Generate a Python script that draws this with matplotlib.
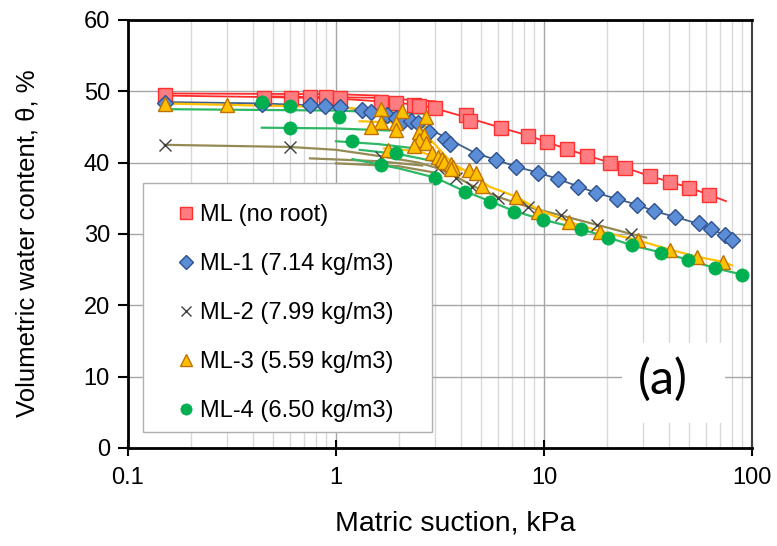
import matplotlib
matplotlib.use("Agg")
import matplotlib.pyplot as plt
from matplotlib.patches import Rectangle
from matplotlib.ticker import LogLocator, NullFormatter, FixedLocator, FixedFormatter

plt.rcParams['font.family'] = ['Liberation Sans', 'DejaVu Sans']

# Measured points (matric suction kPa, volumetric water content %)
ml_x = [0.15, 0.45, 0.61, 0.75, 0.90, 1.04, 1.64, 1.94, 2.36, 2.50, 2.98, 4.24, 4.43,
        6.24, 8.41, 10.3, 12.9, 16.1, 20.8, 24.6, 32.4, 40.5, 49.9, 62.2]
ml_y = [49.5, 49.1, 49.0, 49.2, 49.2, 49.0, 48.5, 48.4, 48.1, 48.0, 47.7, 46.7, 45.9,
        44.9, 43.8, 42.9, 41.9, 41.0, 40.0, 39.3, 38.1, 37.3, 36.5, 35.5]

ml1_x = [0.15, 0.44, 0.75, 0.89, 1.04, 1.33, 1.48, 1.75, 1.94, 2.11, 2.29, 2.47, 2.79,
         3.36, 3.52, 4.69, 5.91, 7.37, 9.39, 11.7, 14.5, 17.7, 22.5, 28.1, 33.9, 42.7,
         55.7, 63.6, 74.3, 80.2]
ml1_y = [48.4, 48.2, 48.1, 47.9, 47.8, 47.4, 47.1, 46.7, 46.3, 45.9, 45.8, 45.6, 44.3,
         43.3, 42.6, 41.1, 40.4, 39.4, 38.6, 37.7, 36.6, 35.8, 34.9, 34.1, 33.2, 32.4,
         31.6, 30.7, 29.9, 29.2]

ml2_x = [0.15, 0.60, 1.64, 3.11, 3.79, 4.53, 6.04, 8.41, 12.1, 17.9, 26.3]
ml2_y = [42.5, 42.2, 40.8, 39.3, 37.9, 36.6, 35.1, 33.8, 32.7, 31.3, 30.0]

ml3_x = [0.15, 0.30, 1.64, 2.07, 2.70, 1.64, 1.48, 1.94, 1.94, 2.50, 2.64, 2.50, 2.70,
         2.36, 1.77, 2.88, 3.11, 3.25, 3.29, 3.56, 3.67, 3.59, 4.34, 4.69, 5.01, 7.36,
         9.39, 13.2, 18.5, 28.4, 40.5, 54.5, 72.6]
ml3_y = [48.2, 48.1, 47.5, 47.3, 46.4, 45.7, 45.0, 45.6, 44.6, 44.3, 43.9, 43.2, 42.8,
         42.4, 41.8, 41.4, 40.8, 40.5, 40.1, 39.8, 39.4, 39.1, 39.0, 38.6, 36.7, 35.2,
         33.1, 31.7, 30.3, 29.2, 27.8, 26.8, 26.1]

ml4_x = [0.44, 0.60, 0.60, 1.03, 1.19, 1.64, 1.94, 2.98, 4.15, 5.53, 7.21, 9.94, 15.0,
         20.4, 26.6, 36.6, 49.3, 66.5, 89.5]
ml4_y = [48.5, 48.0, 44.9, 46.4, 43.1, 39.7, 41.4, 37.9, 35.9, 34.5, 33.1, 32.0, 30.7,
         29.5, 28.4, 27.4, 26.4, 25.2, 24.3]

# Fitted curves
ml_fit_x = [0.15, 0.45, 1.0, 1.6, 2.5, 3.0, 4.3, 6.2, 8.4, 10.3, 12.9, 16.1, 20.8, 24.6,
            32.4, 40.5, 49.9, 62.2, 75.0]
ml_fit_y = [49.4, 49.2, 49.0, 48.6, 48.1, 47.6, 46.3, 44.9, 43.8, 42.9, 41.9, 41.0, 40.0,
            39.3, 38.1, 37.3, 36.5, 35.5, 34.6]
ml1_fit_x = [0.15, 0.44, 1.0, 1.5, 2.0, 2.5, 3.0, 4.7, 5.9, 7.4, 9.4, 11.7, 14.5, 17.7,
             22.5, 28.1, 33.9, 42.7, 55.7, 63.6, 74.3, 82.0]
ml1_fit_y = [48.5, 48.3, 47.9, 47.2, 46.4, 45.5, 44.3, 41.3, 40.4, 39.4, 38.6, 37.7, 36.7,
             35.8, 34.9, 34.1, 33.2, 32.4, 31.4, 30.7, 29.8, 29.0]
ml2_fit_x = [0.15, 0.6, 1.0, 1.64, 2.5, 3.1, 3.8, 4.5, 6.0, 8.4, 12.1, 17.9, 26.3, 31.0]
ml2_fit_y = [42.5, 42.2, 41.8, 40.9, 40.0, 39.2, 38.0, 36.8, 35.2, 33.8, 32.6, 31.3, 30.0,
             29.5]
ml3_fit_x = [0.15, 0.3, 1.0, 1.6, 2.0, 2.5, 3.0, 3.6, 4.5, 5.5, 7.4, 9.4, 13.2, 18.5,
             28.4, 40.5, 54.5, 72.6, 80.0]
ml3_fit_y = [48.3, 48.1, 47.8, 47.3, 46.6, 45.0, 42.5, 40.0, 38.3, 36.6, 35.2, 33.4, 31.7,
             30.4, 29.1, 27.8, 26.8, 26.1, 25.6]
ml4_fit_x = [1.2, 1.64, 2.0, 3.0, 4.15, 5.5, 7.2, 9.9, 15.0, 20.4, 26.6, 36.6, 49.3, 66.5,
             90.0]
ml4_fit_y = [40.5, 39.7, 39.2, 37.9, 36.0, 34.6, 33.2, 32.0, 30.7, 29.5, 28.4, 27.4, 26.4,
             25.2, 24.3]

# Scanning branches (x list, y list)
ml_branches = [([0.15, 1.0, 1.6], [49.7, 49.6, 49.4]),
               ([0.45, 1.5, 3.0], [49.3, 49.1, 48.6])]
ml2_branches = [([0.75, 1.6, 2.6], [40.6, 40.2, 39.6]),
                ([1.0, 2.0, 3.0], [39.9, 39.5, 38.6])]
ml3_branches = [([1.3, 2.0, 2.7], [45.8, 45.6, 45.0]),
                ([1.7, 2.5, 3.2, 4.0], [42.0, 41.6, 40.5, 39.0])]
ml4_branches = [([0.15, 1.0, 3.0], [47.5, 47.3, 46.8]),
                ([0.44, 1.0, 1.8], [44.9, 44.8, 44.5]),
                ([1.0, 1.6, 2.4], [43.0, 42.6, 42.0]),
                ([1.3, 2.0, 3.2], [41.8, 41.2, 40.0])]

labels = ["ML (no root)", "ML-1 (7.14 kg/m3)", "ML-2 (7.99 kg/m3)",
          "ML-3 (5.59 kg/m3)", "ML-4 (6.50 kg/m3)"]

fig = plt.figure(figsize=(7.77, 5.46), dpi=100)
ax = fig.add_axes([0.1647, 0.1795, 0.8031, 0.7839])

# fitted lines
ax.plot(ml_fit_x, ml_fit_y, color="#FF2A2A", lw=1.3, zorder=2)
for bx, by in ml_branches:
    ax.plot(bx, by, color="#FF2A2A", lw=1.3, zorder=2)
ax.plot(ml1_fit_x, ml1_fit_y, color="#3E5F8F", lw=1.3, zorder=2)
ax.plot(ml2_fit_x, ml2_fit_y, color="#948A54", lw=1.6, zorder=2)
for bx, by in ml2_branches:
    ax.plot(bx, by, color="#948A54", lw=1.6, zorder=2)
ax.plot(ml3_fit_x, ml3_fit_y, color="#FFC000", lw=1.6, zorder=2)
for bx, by in ml3_branches:
    ax.plot(bx, by, color="#FFC000", lw=1.6, zorder=2)
ax.plot(ml4_fit_x, ml4_fit_y, color="#2EB866", lw=1.6, zorder=2)
for bx, by in ml4_branches:
    ax.plot(bx, by, color="#2EB866", lw=1.6, zorder=2)

# measured points
ax.plot(ml_x, ml_y, ls="none", marker="s", ms=10.5, mfc="#FF7C80", mec="#FF3030",
        mew=1.0, label=labels[0], zorder=3)
ax.plot(ml1_x, ml1_y, ls="none", marker="D", ms=8.5, mfc="#5B8ED6", mec="#2F528F",
        mew=1.0, label=labels[1], zorder=3)
ax.plot(ml2_x, ml2_y, ls="none", marker="x", ms=9, mec="#404040", mew=1.0,
        label=labels[2], zorder=3)
ax.plot(ml3_x, ml3_y, ls="none", marker="^", ms=10.5, mfc="#FFC000", mec="#C07000",
        mew=1.0, label=labels[3], zorder=3)
ax.plot(ml4_x, ml4_y, ls="none", marker="o", ms=9.5, mfc="#00B050", mec="#00B050",
        mew=0.5, label=labels[4], zorder=3)

ax.set_xscale("log")
ax.set_xlim(0.1, 100)
ax.set_ylim(0, 60)
ax.xaxis.set_major_locator(FixedLocator([0.1, 1, 10, 100]))
ax.xaxis.set_major_formatter(FixedFormatter(["0.1", "1", "10", "100"]))
ax.xaxis.set_minor_locator(LogLocator(base=10, subs=range(2, 10)))
ax.xaxis.set_minor_formatter(NullFormatter())
ax.set_yticks(range(0, 61, 10))

ax.grid(which="major", color="#A6A6A6", lw=1.0, zorder=0)
ax.grid(which="minor", axis="x", color="#D9D9D9", lw=1.0, zorder=0)
ax.set_axisbelow(True)

ax.tick_params(axis="both", which="major", labelsize=17, length=7, width=1.5,
               direction="out", pad=6)
ax.tick_params(axis="x", which="major", direction="inout", length=12, pad=8)
ax.tick_params(axis="x", which="minor", length=0)
for side in ["left", "top", "bottom"]:
    ax.spines[side].set_color("black")
    ax.spines[side].set_linewidth(2.0)
ax.spines["right"].set_color("#404040")
ax.spines["right"].set_linewidth(1.5)

ax.set_xlabel("Matric suction, kPa", fontsize=20.5)
ax.set_ylabel("Volumetric water content, θ, %", fontsize=18.5)
ax.xaxis.set_label_coords(0.525, -0.145)
ax.yaxis.set_label_coords(-0.141, 0.478)

# legend frame drawn separately so its padding can differ per side
ax.add_patch(Rectangle((0.024, 0.0374), 0.463, 0.582, transform=ax.transAxes,
                       facecolor="white", edgecolor="#B0B0B0", lw=1.0, zorder=4.5))
leg = ax.legend(loc="upper left", bbox_to_anchor=(0.0797, 0.569), fontsize=17,
                frameon=False, borderpad=0, labelspacing=1.14, handlelength=0.7,
                handletextpad=0.25, borderaxespad=0, markerscale=0.85)
leg.set_zorder(5)

# white patch behind the panel tag
ax.add_patch(Rectangle((0.792, 0.058), 0.165, 0.187, transform=ax.transAxes,
                       facecolor="white", edgecolor="none", zorder=4))
ax.text(0.857, 0.159, "(a)", transform=ax.transAxes, fontsize=35, family="Lato",
        ha="center", va="center", zorder=5)

fig.savefig("out.png", dpi=100)
